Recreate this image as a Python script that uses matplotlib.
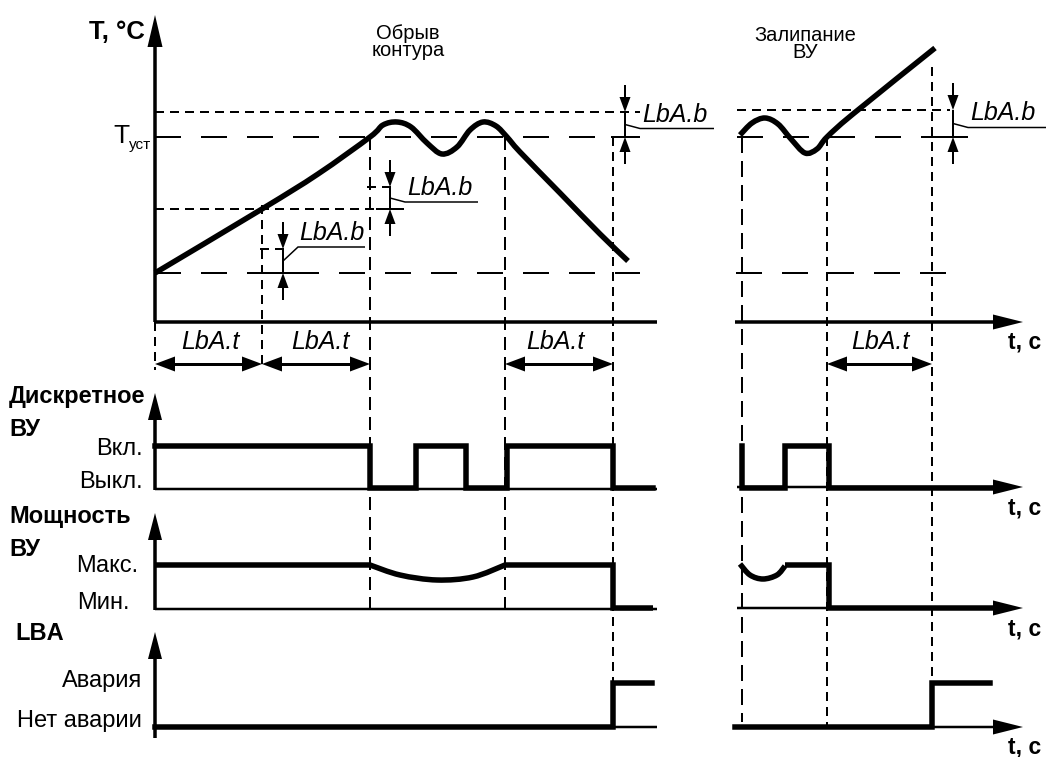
#!/usr/bin/env python3
"""
LBA (loop break alarm) timing diagram: temperature, discrete output,
output power and LBA state for "open loop" and "stuck actuator" cases.
"""

import numpy as np
import matplotlib

matplotlib.use("Agg")
import matplotlib.pyplot as plt
from matplotlib import font_manager
from matplotlib.path import Path
from matplotlib.patches import PathPatch

PX = 0.72  # points per pixel at 100 dpi

# --- levels (pixel rows of the drawing) ---
T_LEVELS = {"up": 112, "set": 137, "mid": 209, "low": 273}
DISC_LEVELS = {"off": 488, "on": 446}
POW_LEVELS = {"min": 608, "max": 565}
LBA_LEVELS = {"no": 727, "alarm": 683}

# --- temperature, open loop ---
temp_break_x = [155, 262, 318, 370, 383, 397, 411, 427, 442, 457, 470,
                483, 496, 507, 520, 560, 600, 628]
temp_break_y = [273, 209, 174, 137, 125, 122, 127, 143, 154, 147, 130,
                122, 126, 137, 152, 193, 234, 261]

# --- temperature, stuck actuator ---
temp_stuck_x = [740, 752, 765, 778, 791, 805, 817, 827, 853, 935]
temp_stuck_y = [135, 123, 118, 124, 139, 153, 149, 137, 114, 48]

# --- discrete output (1 = on, 0 = off), step times ---
disc_break_t = [155, 370, 416, 466, 507, 613, 653]
disc_break_s = [1, 0, 1, 0, 1, 0, 0]
disc_stuck_t = [742, 742, 785, 829, 1000]
disc_stuck_s = [1, 0, 1, 0, 0]

# --- output power: flat parts and the sag while regulating ---
pow_break_sag_x = [370, 400, 437, 473, 505]
pow_break_sag_y = [565, 575, 580, 577, 565]
pow_break_t = [155, 370, 505, 613, 653]
pow_stuck_sag_x = [740, 750, 763, 777, 785]
pow_stuck_sag_y = [564, 575, 579, 575, 566]
pow_stuck_t = [785, 829, 1000]

# --- LBA state ---
lba_break_t = [155, 613, 652]
lba_break_s = [0, 1, 1]
lba_stuck_t = [735, 932, 990]
lba_stuck_s = [0, 1, 1]

# --- LbA.t intervals and LbA.b bands ---
lbat_spans = [(155, 262), (262, 370), (505, 613), (827, 932)]
lbat_text_x = [210, 320, 555, 880]
lbab_marks = [  # x, upper level, lower level, leader end
    (283, 249, 273, 365),
    (390, 187, 209, 478),
    (625, 112, 137, 714),
    (953, 110, 137, 1046),
]

names = {f.name for f in font_manager.fontManager.ttflist}
SANS = "Liberation Sans" if "Liberation Sans" in names else "DejaVu Sans"
NARROW = "Liberation Sans Narrow" if "Liberation Sans Narrow" in names else SANS
plt.rcParams["font.family"] = [SANS, "DejaVu Sans"]
plt.rcParams["lines.scale_dashes"] = False

fig = plt.figure(figsize=(10.46, 7.57), dpi=100)
ax = fig.add_axes([0, 0, 1, 1])
ax.set_xlim(0, 1046)
ax.set_ylim(757, 0)
ax.axis("off")

SHORT = (9 * PX, 6 * PX)
MID = (13 * PX, 7 * PX)
LONG = (26 * PX, 20 * PX)


def line(xs, ys, w, dash=None):
    ls = (0, dash) if dash else "-"
    ax.plot(xs, ys, color="black", lw=w * PX, linestyle=ls,
            solid_capstyle="butt", dash_capstyle="butt", solid_joinstyle="miter")


def smooth(xs, ys, w=5.5):
    """Smooth curve through the given points (Catmull-Rom as Bezier)."""
    p = np.column_stack([xs, ys]).astype(float)
    ext = np.vstack([p[0], p, p[-1]])
    verts, codes = [p[0]], [Path.MOVETO]
    for i in range(1, len(ext) - 2):
        c1 = ext[i] + (ext[i + 1] - ext[i - 1]) / 6
        c2 = ext[i + 1] - (ext[i + 2] - ext[i]) / 6
        verts += [c1, c2, ext[i + 1]]
        codes += [Path.CURVE4] * 3
    ax.add_patch(PathPatch(Path(verts, codes), fill=False, lw=w * PX,
                           edgecolor="black", capstyle="butt", joinstyle="round"))


def head(x, y, dx, dy, length, width):
    """Filled arrow head with the tip at (x, y), pointing along (dx, dy)."""
    n = np.hypot(dx, dy)
    ux, uy = dx / n, dy / n
    bx, by = x - ux * length, y - uy * length
    px, py = -uy * width / 2, ux * width / 2
    ax.fill([x, bx + px, bx - px], [y, by + py, by - py], color="black", lw=0)


def signal(t, s, low, high, w=5.5):
    ys = [low - v * (low - high) for v in s]
    ax.step(t, ys, where="post", color="black", lw=w * PX, solid_joinstyle="miter")


LBA_FONT = dict(fontsize=18, style="italic", family=[NARROW, "DejaVu Sans"])

# ---------------- temperature panel ----------------
line([155, 155], [322, 40], 3.5)
head(155, 15, 0, -1, 32, 15)
line([155, 657], [322, 322], 3.5)
line([735, 1000], [322, 322], 3.5)
head(1023, 322, 1, 0, 30, 15)

line([155, 640], [T_LEVELS["up"]] * 2, 2, SHORT)
line([737, 950], [110, 110], 2, SHORT)
line([155, 640], [T_LEVELS["set"]] * 2, 2, LONG)
line([737, 968], [T_LEVELS["set"]] * 2, 2, LONG)
line([155, 393], [T_LEVELS["mid"]] * 2, 2, SHORT)
line([155, 640], [T_LEVELS["low"]] * 2, 2, LONG)
line([736, 960], [T_LEVELS["low"]] * 2, 2, LONG)
line([367, 393], [187, 187], 2, SHORT)
line([260, 290], [249, 249], 2, SHORT)

smooth(temp_break_x, temp_break_y)
smooth(temp_stuck_x, temp_stuck_y)

# vertical guides
line([155, 155], [322, 370], 2, SHORT)
line([262, 262], [205, 370], 2, SHORT)
line([370, 370], [137, 608], 2, MID)
line([505, 505], [137, 608], 2, MID)
line([613, 613], [137, 683], 2, SHORT)
line([742, 742], [137, 722], 2, (16 * PX, 8 * PX))
line([827, 827], [137, 727], 2, SHORT)
line([932, 932], [67, 683], 2, SHORT)

# LbA.t intervals
for (a, b), tx in zip(lbat_spans, lbat_text_x):
    line([a + 18, b - 18], [364, 364], 3)
    head(a, 364, -1, 0, 20, 15)
    head(b, 364, 1, 0, 20, 15)
    ax.text(tx, 342, "LbA.t", ha="center", va="center", **LBA_FONT)

# LbA.b bands
for x, hi, lo, end in lbab_marks:
    line([x, x], [hi - 27, hi - 14], 2)
    head(x, hi, 0, 1, 15, 11)
    line([x, x], [lo + 14, lo + 27], 2)
    head(x, lo, 0, -1, 15, 11)
    line([x - 14, x + 14], [lo, lo], 2)
    line([x, x], [hi, lo], 2)
    ym = (hi + lo) / 2
    yl = ym - 14 if x < 300 else ym + 4
    line([x, x + 15, end], [ym, yl, yl], 1.5)
    ax.text((x + 15 + min(end, x + 85)) / 2, yl - 14, "LbA.b", ha="center",
            va="center", **LBA_FONT)

ax.text(145, 32, "T, °C", ha="right", va="center", fontsize=18.5, weight="bold")
ax.text(130, 136, "T", ha="right", va="center", fontsize=19)
ax.text(129, 145, "уст", ha="left", va="center", fontsize=11)
ax.text(408, 42, "Обрыв\nконтура", ha="center", va="center", fontsize=14.5,
        linespacing=0.85, family=[NARROW, "DejaVu Sans"])
ax.text(805, 44, "Залипание\nВУ", ha="center", va="center", fontsize=14.5,
        linespacing=0.85, family=[NARROW, "DejaVu Sans"])

# ---------------- discrete output ----------------
line([155, 155], [490, 415], 3.5)
head(155, 393, 0, -1, 27, 14)
line([155, 657], [489, 489], 2.5)
line([737, 1000], [487, 487], 2.5)
head(1023, 487, 1, 0, 30, 15)
signal(disc_break_t, disc_break_s, DISC_LEVELS["off"], DISC_LEVELS["on"])
signal(disc_stuck_t, disc_stuck_s, DISC_LEVELS["off"], DISC_LEVELS["on"])

# ---------------- output power ----------------
line([155, 155], [610, 535], 3.5)
head(155, 513, 0, -1, 27, 14)
line([155, 657], [609, 609], 2.5)
line([737, 1000], [608, 608], 2.5)
head(1023, 608, 1, 0, 30, 15)
pmax, pmin = POW_LEVELS["max"], POW_LEVELS["min"]
line(pow_break_t[:2], [pmax, pmax], 5.5)
smooth(pow_break_sag_x, pow_break_sag_y)
ax.plot([pow_break_t[2], pow_break_t[3], pow_break_t[3], pow_break_t[4]],
        [pmax, pmax, pmin, pmin], color="black", lw=5.5 * PX,
        solid_joinstyle="miter", solid_capstyle="butt")
smooth(pow_stuck_sag_x, pow_stuck_sag_y)
ax.plot([pow_stuck_t[0], pow_stuck_t[1], pow_stuck_t[1], pow_stuck_t[2]],
        [pmax, pmax, pmin, pmin], color="black", lw=5.5 * PX,
        solid_joinstyle="miter", solid_capstyle="butt")

# ---------------- LBA ----------------
line([155, 155], [738, 655], 3.5)
head(155, 632, 0, -1, 27, 14)
line([155, 657], [727, 727], 2.5)
line([735, 1000], [727, 727], 2.5)
head(1023, 727, 1, 0, 30, 15)
signal(lba_break_t, lba_break_s, LBA_LEVELS["no"], LBA_LEVELS["alarm"])
signal(lba_stuck_t, lba_stuck_s, LBA_LEVELS["no"], LBA_LEVELS["alarm"])

# ---------------- labels ----------------
for y in (342, 508, 629, 747):
    ax.text(1025, y, "t, с", ha="center", va="center", fontsize=16.5, weight="bold")

ax.text(9, 396, "Дискретное", ha="left", va="center", fontsize=17, weight="bold")
ax.text(9, 429, "ВУ", ha="left", va="center", fontsize=17, weight="bold")
ax.text(9, 517, "Мощность", ha="left", va="center", fontsize=17, weight="bold")
ax.text(9, 549, "ВУ", ha="left", va="center", fontsize=17, weight="bold")
ax.text(15, 633, "LBA", ha="left", va="center", fontsize=17, weight="bold")

for txt, x, y in [("Вкл.", 143, 449), ("Выкл.", 143, 482), ("Макс.", 138, 566),
                  ("Мин.", 130, 603), ("Авария", 142, 681), ("Нет аварии", 142, 721)]:
    ax.text(x, y, txt, ha="right", va="center", fontsize=17)

fig.savefig("out.png", dpi=100)
